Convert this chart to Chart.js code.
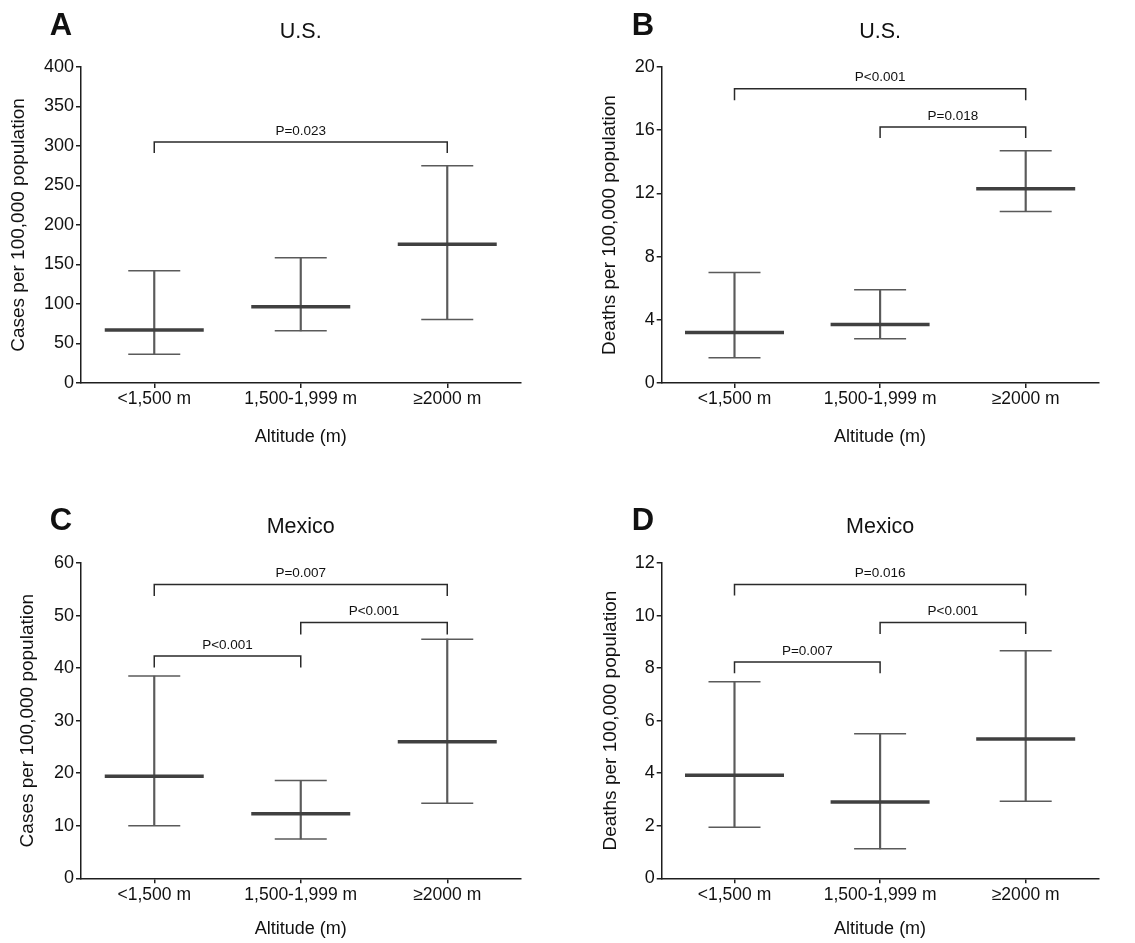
<!DOCTYPE html>
<html><head><meta charset="utf-8">
<script src="https://cdn.jsdelivr.net/npm/chart.js@4.4.1/dist/chart.umd.min.js"></script>
<style>
html,body{margin:0;padding:0;background:#fff;overflow:hidden;width:1135px;height:943px;}
canvas{position:absolute;display:block;}
</style></head><body>
<canvas id="cA" width="568" height="471" style="left:0px;top:0px"></canvas>
<canvas id="cB" width="568" height="471" style="left:567px;top:0px"></canvas>
<canvas id="cC" width="568" height="471" style="left:0px;top:496px"></canvas>
<canvas id="cD" width="568" height="471" style="left:567px;top:496px"></canvas>
<script>
// ---------- data ----------
const categories = ['<1,500 m', '1,500-1,999 m', '\u22652000 m'];

// A: U.S. cases
const usCasesMedian = [67, 96.5, 175.5];
const usCasesLow    = [36.5, 66, 80.5];
const usCasesHigh   = [142, 158.5, 275];
const usCasesTicks  = [0, 50, 100, 150, 200, 250, 300, 350, 400];
const usCasesBrackets = [[0, 2, 305, 291, 'P=0.023']];

// B: U.S. deaths
const usDeathsMedian = [3.2, 3.7, 12.3];
const usDeathsLow    = [1.6, 2.8, 10.85];
const usDeathsHigh   = [7.0, 5.9, 14.7];
const usDeathsTicks  = [0, 4, 8, 12, 16, 20];
const usDeathsBrackets = [[0, 2, 18.63, 17.9, 'P<0.001'], [1, 2, 16.2, 15.5, 'P=0.018']];

// C: Mexico cases
const mxCasesMedian = [19.4, 12.3, 26.0];
const mxCasesLow    = [10.0, 7.5, 14.3];
const mxCasesHigh   = [38.5, 18.6, 45.5];
const mxCasesTicks  = [0, 10, 20, 30, 40, 50, 60];
const mxCasesBrackets = [[0, 2, 55.9, 53.7, 'P=0.007'], [1, 2, 48.7, 46.4, 'P<0.001'], [0, 1, 42.3, 40.1, 'P<0.001']];

// D: Mexico deaths
const mxDeathsMedian = [3.92, 2.9, 5.3];
const mxDeathsLow    = [1.94, 1.12, 2.93];
const mxDeathsHigh   = [7.48, 5.5, 8.66];
const mxDeathsTicks  = [0, 2, 4, 6, 8, 10, 12];
const mxDeathsBrackets = [[0, 2, 11.18, 10.76, 'P=0.016'], [1, 2, 9.74, 9.3, 'P<0.001'], [0, 1, 8.23, 7.8, 'P=0.007']];

// ---------- styling ----------
const FONT = "'Liberation Sans', Arial, Helvetica, sans-serif";
Chart.defaults.font.family = FONT;
Chart.defaults.color = '#111';
const AXIS = '#1e1e1e';
const WHISK = '#5a5a5a';
const MED = '#404040';

const decoPlugin = {
  id: 'panelDeco',
  afterDatasetsDraw(chart, args, opts) {
    const ctx = chart.ctx;
    const xs = chart.scales.x, ys = chart.scales.y;
    ctx.save();
    ctx.fillStyle = '#111';
    ctx.textAlign = 'center';
    ctx.textBaseline = 'alphabetic';
    ctx.font = '13.5px ' + FONT;
    (opts.brackets || []).forEach(b => {
      const x1 = xs.getPixelForValue(b[0]);
      const x2 = xs.getPixelForValue(b[1]);
      const y = ys.getPixelForValue(b[2]);
      ctx.fillText(b[4], (x1 + x2) / 2, y - 7.5);
    });
    ctx.font = 'bold 31px ' + FONT;
    ctx.fillText(opts.letter, opts.letterX, opts.letterY);
    ctx.font = '21.5px ' + FONT;
    const ca = chart.chartArea;
    ctx.fillText(opts.title, (ca.left + ca.right) / 2, opts.titleY);
    ctx.restore();
  }
};

function makePanel(p) {
  const W = 568, H = 471;
  const padLeft = p.yTitleCX - (7 + 19 * 1.2 / 2);
  const yWidth = p.axisL - padLeft;
  const xHeight = H - p.plotBottom;
  const xTitlePadBottom = (H - p.xTitleCY) - 18 * 1.2 / 2;

  const datasets = [];
  datasets.push({
    type: 'line', label: 'median', data: p.median,
    showLine: false, pointStyle: 'line', pointRadius: 49.5, pointHoverRadius: 49.5,
    pointBorderWidth: 3.5, pointBorderColor: MED, pointBackgroundColor: MED, order: 0
  });
  datasets.push({
    type: 'line', label: 'upper', data: p.high,
    showLine: false, pointStyle: 'line', pointRadius: 26, pointHoverRadius: 26,
    pointBorderWidth: 1.5, pointBorderColor: WHISK, pointBackgroundColor: WHISK, order: 1
  });
  datasets.push({
    type: 'line', label: 'lower', data: p.low,
    showLine: false, pointStyle: 'line', pointRadius: 26, pointHoverRadius: 26,
    pointBorderWidth: 1.5, pointBorderColor: WHISK, pointBackgroundColor: WHISK, order: 1
  });
  datasets.push({
    type: 'bar', label: 'range', data: p.low.map((l, i) => [l, p.high[i]]),
    backgroundColor: WHISK, borderWidth: 0, barThickness: 1.5, order: 2
  });
  p.brackets.forEach((b, k) => {
    datasets.push({
      type: 'line', label: 'bracket' + k,
      data: [
        { x: categories[b[0]], y: b[3] },
        { x: categories[b[0]], y: b[2] },
        { x: categories[b[1]], y: b[2] },
        { x: categories[b[1]], y: b[3] }
      ],
      borderColor: '#2a2a2a', borderWidth: 1.5, pointRadius: 0, tension: 0, fill: false, order: 3
    });
  });

  return new Chart(document.getElementById(p.id), {
    type: 'bar',
    data: { labels: categories, datasets },
    options: {
      responsive: false, animation: false, devicePixelRatio: 1, events: [],
      layout: { autoPadding: false, padding: { left: padLeft, top: p.plotTop, right: W - p.axisR, bottom: 0 } },
      plugins: {
        legend: { display: false }, tooltip: { enabled: false }, title: { display: false },
        panelDeco: { letter: p.letter, letterX: p.letterX, letterY: p.letterY, title: p.title, titleY: p.titleY, brackets: p.brackets }
      },
      scales: {
        x: {
          type: 'category', offset: true,
          grid: { display: true, drawOnChartArea: false, offset: false, tickLength: 5, color: AXIS, lineWidth: 1.5 },
          border: { display: true, color: AXIS, width: 1.5 },
          ticks: { font: { size: 17.5 }, color: '#111', padding: 1, maxRotation: 0, autoSkip: false },
          title: { display: true, text: 'Altitude (m)', font: { size: 18 }, color: '#111', padding: { top: 0, bottom: xTitlePadBottom } },
          afterFit(s) { s.height = xHeight; }
        },
        y: {
          min: p.ticks[0], max: p.ticks[p.ticks.length - 1],
          grid: { display: true, drawOnChartArea: false, tickLength: 5, color: AXIS, lineWidth: 1.5 },
          border: { display: true, color: AXIS, width: 1.5 },
          ticks: { font: { size: 18 }, color: '#111', padding: 2 },
          afterBuildTicks(s) { s.ticks = p.ticks.map(v => ({ value: v })); },
          title: { display: true, text: p.yTitle, font: { size: 19 }, color: '#111', padding: { top: 7, bottom: 0 } },
          afterFit(s) { s.width = yWidth; }
        }
      }
    },
    plugins: [decoPlugin]
  });
}

makePanel({ id: 'cA', median: usCasesMedian, low: usCasesLow, high: usCasesHigh, ticks: usCasesTicks, brackets: usCasesBrackets,
  axisL: 81, axisR: 520.5, plotTop: 67, plotBottom: 383, yTitleCX: 18.5, xTitleCY: 437,
  letter: 'A', letterX: 61, letterY: 35, title: 'U.S.', titleY: 38.3, yTitle: 'Cases per 100,000 population' });
makePanel({ id: 'cB', median: usDeathsMedian, low: usDeathsLow, high: usDeathsHigh, ticks: usDeathsTicks, brackets: usDeathsBrackets,
  axisL: 94.7, axisR: 531.5, plotTop: 67, plotBottom: 383, yTitleCX: 43, xTitleCY: 437,
  letter: 'B', letterX: 76, letterY: 35, title: 'U.S.', titleY: 38.3, yTitle: 'Deaths per 100,000 population' });
makePanel({ id: 'cC', median: mxCasesMedian, low: mxCasesLow, high: mxCasesHigh, ticks: mxCasesTicks, brackets: mxCasesBrackets,
  axisL: 81, axisR: 520.5, plotTop: 67, plotBottom: 382.3, yTitleCX: 28, xTitleCY: 433,
  letter: 'C', letterX: 61, letterY: 34, title: 'Mexico', titleY: 37.3, yTitle: 'Cases per 100,000 population' });
makePanel({ id: 'cD', median: mxDeathsMedian, low: mxDeathsLow, high: mxDeathsHigh, ticks: mxDeathsTicks, brackets: mxDeathsBrackets,
  axisL: 94.7, axisR: 531.5, plotTop: 67, plotBottom: 382.3, yTitleCX: 43.5, xTitleCY: 433,
  letter: 'D', letterX: 76, letterY: 34, title: 'Mexico', titleY: 37.3, yTitle: 'Deaths per 100,000 population' });
</script>
</body></html>
